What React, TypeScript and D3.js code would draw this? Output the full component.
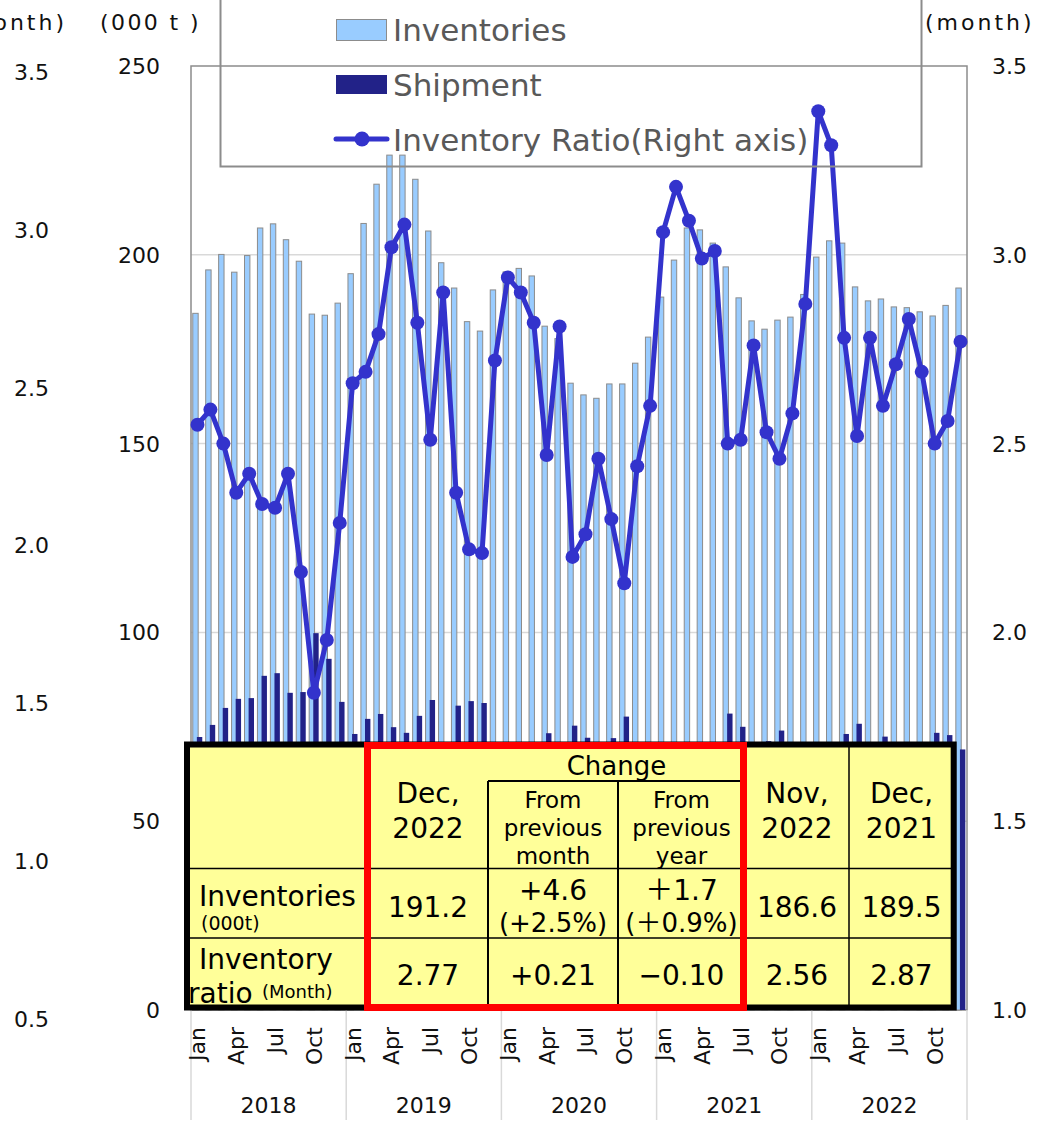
import React from 'react';
import * as d3 from 'd3';

const years = ['2018', '2019', '2020', '2021', '2022'];
const monthNames = ['Jan', 'Feb', 'Mar', 'Apr', 'May', 'Jun', 'Jul', 'Aug', 'Sep', 'Oct', 'Nov', 'Dec'];
const tickMonths = ['Jan', 'Apr', 'Jul', 'Oct'];

// Inventories (000 t), Jan 2018 - Dec 2022
const inventories = [
  184.5, 196.0, 200.1, 195.4, 199.8, 207.1, 208.2, 204.0, 198.3, 184.3, 184.0, 187.2,
  195.0, 208.3, 218.7, 226.4, 226.4, 220.0, 206.3, 197.9, 191.2, 182.3, 179.8, 190.7,
  195.5, 196.4, 194.4, 181.1, 177.8, 166.0, 162.9, 162.0, 165.8, 165.8, 171.3, 178.2,
  188.8, 198.6, 207.1, 206.6, 203.1, 196.8, 188.6, 182.5, 180.3, 182.7, 183.5, 189.5,
  199.4, 203.7, 203.1, 191.5, 187.8, 188.3, 186.2, 186.0, 184.9, 183.8, 186.6, 191.2,
];

// Shipment (000 t)
const shipments = [
  72.3, 75.5, 80.0, 82.4, 82.6, 88.5, 89.2, 84.0, 84.2, 99.8, 93.0, 81.6,
  73.1, 77.1, 78.4, 74.9, 73.4, 77.9, 82.1, 68.3, 80.6, 81.8, 81.3, 70.0,
  66.6, 67.7, 69.0, 73.3, 63.3, 75.3, 72.1, 65.9, 72.0, 77.7, 70.2, 68.5,
  61.7, 62.5, 67.0, 69.1, 67.5, 78.5, 75.0, 66.1, 71.2, 74.0, 70.6, 66.0,
  59.0, 62.0, 73.1, 75.8, 67.6, 72.4, 68.7, 65.7, 68.7, 73.4, 72.8, 69.0,
];

// Inventory ratio (months), right axis
const ratio = [
  2.55, 2.59, 2.50, 2.37, 2.42, 2.34, 2.33, 2.42, 2.16, 1.84, 1.98, 2.29,
  2.66, 2.69, 2.79, 3.02, 3.08, 2.82, 2.51, 2.90, 2.37, 2.22, 2.21, 2.72,
  2.94, 2.90, 2.82, 2.47, 2.81, 2.20, 2.26, 2.46, 2.30, 2.13, 2.44, 2.60,
  3.06, 3.18, 3.09, 2.99, 3.01, 2.50, 2.51, 2.76, 2.53, 2.46, 2.58, 2.87,
  3.38, 3.29, 2.78, 2.52, 2.78, 2.60, 2.71, 2.83, 2.69, 2.50, 2.56, 2.77,
];

const leftTicks = [0, 50, 100, 150, 200, 250];
const rightTicks = [1.0, 1.5, 2.0, 2.5, 3.0, 3.5];
const farLeftTicks = [0.5, 1.0, 1.5, 2.0, 2.5, 3.0, 3.5];

const legendLabels = ['Inventories', 'Shipment', 'Inventory Ratio(Right axis)'];

// summary table
const tableColHeads = [['Dec,', '2022'], ['Nov,', '2022'], ['Dec,', '2021']];
const changeHeads = [['From', 'previous', 'month'], ['From', 'previous', 'year']];
const invRow = ['191.2', '186.6', '189.5'];
const invChangeMonth = ['+4.6', '(+2.5%)'];
const invChangeYear = ['1.7', '0.9%)'];
const ratioRow = ['2.77', '2.56', '2.87'];
const ratioChange = ['+0.21', '−0.10'];

const FONT = "'DejaVu Sans', Verdana, sans-serif";
const CJK = "'Noto Sans CJK JP', 'DejaVu Sans', sans-serif";
const BLUE_LIGHT = '#99CCFF';
const NAVY = '#222288';
const LINE = '#3333CC';

export default function App() {
  const W = 1038;
  const H = 1131;
  const plot = { l: 191, r: 967, t: 66, b: 1010 };
  const idx = d3.range(inventories.length);
  const x = d3.scaleBand<number>().domain(idx).range([plot.l, plot.r]).padding(0);
  const bw = x.bandwidth();
  const cx = (i: number) => (x(i) as number) + bw / 2;
  const y = d3.scaleLinear().domain([0, 250]).range([plot.b, plot.t]);
  const yR = d3.scaleLinear().domain([1, 3.5]).range([plot.b, plot.t]);
  const yF = d3.scaleLinear().domain([0.5, 3.5]).range([1019, 72]);
  const fmt1 = d3.format('.1f');

  const linePath = d3
    .line<number>()
    .x((_, i) => cx(i))
    .y((d) => yR(d))(ratio) as string;

  // table geometry
  const T = { l: 187, r: 953.7, t: 744.5, b: 1007.5 };
  const colX = [368, 488, 618, 745, 849];
  const rowY = [781, 868.5, 938];
  const colCenters = [428, 553, 681.5, 797, 901.5];

  return (
    <svg
      width={W}
      height={H}
      style={{ position: 'absolute', left: 0, top: 0, background: '#fff' }}
      fontFamily={FONT}
    >
      {/* gridlines */}
      {leftTicks.slice(1, -1).map((t) => (
        <line key={'g' + t} x1={plot.l} x2={plot.r} y1={y(t)} y2={y(t)} stroke="#D9D9D9" strokeWidth={1.5} />
      ))}
      {/* plot frame */}
      <rect x={plot.l} y={plot.t} width={plot.r - plot.l} height={plot.b - plot.t} fill="none" stroke="#8C8C8C" strokeWidth={1.5} />

      {/* inventory bars */}
      {inventories.map((v, i) => (
        <rect key={'inv' + i} x={cx(i) - 4.7} y={y(v)} width={5.4} height={y(0) - y(v)} fill={BLUE_LIGHT} stroke="#8C8C8C" strokeWidth={1} />
      ))}
      {/* shipment bars */}
      {shipments.map((v, i) => (
        <rect key={'sh' + i} x={cx(i) - 0.6} y={y(v)} width={5.4} height={y(0) - y(v)} fill={NAVY} />
      ))}

      {/* ratio line */}
      <path d={linePath} fill="none" stroke={LINE} strokeWidth={5} strokeLinejoin="round" />
      {ratio.map((v, i) => (
        <circle key={'pt' + i} cx={cx(i)} cy={yR(v)} r={7} fill={LINE} />
      ))}

      {/* legend */}
      <rect x={220.5} y={-2} width={701} height={168.5} fill="none" stroke="#8C8C8C" strokeWidth={2} />
      <rect x={336.5} y={19.5} width={50} height={21} fill={BLUE_LIGHT} stroke="#8C8C8C" strokeWidth={1} />
      <rect x={336} y={75} width={51} height={19} fill={NAVY} />
      <line x1={336} x2={387} y1={139} y2={139} stroke={LINE} strokeWidth={5} strokeLinecap="round" />
      <circle cx={362} cy={139} r={7.5} fill={LINE} />
      {legendLabels.map((s, k) => (
        <text key={'lg' + k} x={393} y={[30, 85, 140][k]} dy="0.36em" fontSize={31} fill="#595959">
          {s}
        </text>
      ))}

      {/* left axis (000 t) */}
      <text x={100} y={30} fontSize={22} letterSpacing={2.4} fill="#111">(000 t )</text>
      {leftTicks.map((t) => (
        <text key={'l' + t} x={160} y={y(t)} dy="0.36em" textAnchor="end" fontSize={22} fill="#111">
          {t}
        </text>
      ))}
      {/* far-left axis (month) */}
      <text x={67} y={30} textAnchor="end" fontSize={22} letterSpacing={3} fill="#111">(month)</text>
      {farLeftTicks.map((t) => (
        <text key={'f' + t} x={49} y={yF(t)} dy="0.36em" textAnchor="end" fontSize={22} fill="#111">
          {fmt1(t)}
        </text>
      ))}
      {/* right axis (month) */}
      <text x={925} y={30} fontSize={22} letterSpacing={3} fill="#111">(month)</text>
      {rightTicks.map((t) => (
        <text key={'r' + t} x={992} y={yR(t)} dy="0.36em" fontSize={22} fill="#111">
          {fmt1(t)}
        </text>
      ))}

      {/* x axis */}
      {d3.range(years.length + 1).map((k) => {
        const xx = k < years.length ? (x(k * 12) as number) : plot.r;
        return <line key={'yd' + k} x1={xx} x2={xx} y1={plot.b} y2={1120} stroke="#D9D9D9" strokeWidth={1.5} />;
      })}
      {idx
        .filter((i) => tickMonths.includes(monthNames[i % 12]))
        .map((i) => (
          <text
            key={'m' + i}
            transform={`translate(${cx(i)},1027) rotate(-90)`}
            textAnchor="end"
            dy="0.36em"
            fontSize={22}
            fill="#111"
          >
            {monthNames[i % 12]}
          </text>
        ))}
      {years.map((yr, k) => (
        <text key={'yr' + yr} x={((x(k * 12) as number) + (k * 12 + 12 < 60 ? (x(k * 12 + 12) as number) : plot.r)) / 2} y={1113} textAnchor="middle" fontSize={22} fill="#111">
          {yr}
        </text>
      ))}

      {/* summary table */}
      <rect x={T.l} y={T.t} width={T.r - T.l} height={T.b - T.t} fill="#FFFF99" stroke="#000" strokeWidth={6} />
      <line x1={T.l} x2={T.r} y1={rowY[1]} y2={rowY[1]} stroke="#000" strokeWidth={1.5} />
      <line x1={T.l} x2={T.r} y1={rowY[2]} y2={rowY[2]} stroke="#000" strokeWidth={1.5} />
      <line x1={colX[1]} x2={colX[3]} y1={rowY[0]} y2={rowY[0]} stroke="#000" strokeWidth={2} />
      <line x1={colX[1]} x2={colX[1]} y1={rowY[0]} y2={T.b} stroke="#000" strokeWidth={2} />
      <line x1={colX[2]} x2={colX[2]} y1={rowY[0]} y2={T.b} stroke="#000" strokeWidth={2} />
      <line x1={colX[4]} x2={colX[4]} y1={T.t} y2={T.b} stroke="#000" strokeWidth={1.5} />

      <g fontSize={28} fill="#000" textAnchor="middle">
        <text x={616.5} y={775} fontSize={26}>Change</text>
        {tableColHeads.map((h, k) => {
          const cxx = [colCenters[0], colCenters[3], colCenters[4]][k];
          return (
            <g key={'th' + k}>
              <text x={cxx} y={803}>{h[0]}</text>
              <text x={cxx} y={838}>{h[1]}</text>
            </g>
          );
        })}
        {changeHeads.map((h, k) => (
          <g key={'ch' + k} fontSize={23}>
            {h.map((s, j) => (
              <text key={j} x={colCenters[1 + k]} y={808 + j * 28}>{s}</text>
            ))}
          </g>
        ))}
        <text x={colCenters[0]} y={917}>{invRow[0]}</text>
        <text x={colCenters[3]} y={917}>{invRow[1]}</text>
        <text x={colCenters[4]} y={917}>{invRow[2]}</text>
        <text x={colCenters[1]} y={900}>{invChangeMonth[0]}</text>
        <text x={colCenters[1]} y={932} fontSize={26}>{invChangeMonth[1]}</text>
        <text x={colCenters[2]} y={900}>
          <tspan fontFamily={CJK}>＋</tspan>
          {invChangeYear[0]}
        </text>
        <text x={colCenters[2]} y={932} fontSize={26}>
          (<tspan fontFamily={CJK}>＋</tspan>
          {invChangeYear[1]}
        </text>
        <text x={colCenters[0]} y={985}>{ratioRow[0]}</text>
        <text x={colCenters[3]} y={985}>{ratioRow[1]}</text>
        <text x={colCenters[4]} y={985}>{ratioRow[2]}</text>
        {ratioChange.map((c, k) => (
          <text key={'rc' + k} x={colCenters[1 + k]} y={985}>{c}</text>
        ))}
      </g>
      <g fill="#000">
        <text x={199} y={906} fontSize={28}>Inventories</text>
        <text x={201} y={930} fontSize={19}>(000t)</text>
        <text x={199} y={969} fontSize={28}>Inventory</text>
        <text x={188} y={1003} fontSize={28}>ratio</text>
        <text x={262} y={998} fontSize={18}>(Month)</text>
      </g>
      <rect x={367.5} y={745.5} width={376} height={262} fill="none" stroke="#FF0000" strokeWidth={7} />
    </svg>
  );
}
